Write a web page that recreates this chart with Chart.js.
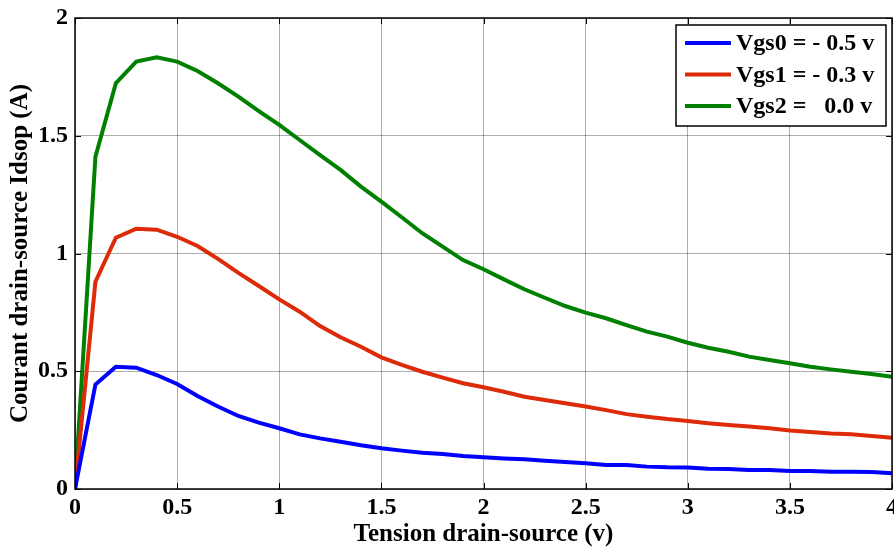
<!DOCTYPE html>
<html>
<head>
<meta charset="utf-8">
<script src="https://cdn.jsdelivr.net/npm/chart.js@4"></script>
<style>
  body { margin: 0; background: #fff; }
  #wrap { width: 894px; height: 550px; }
</style>
</head>
<body>
<div id="wrap"><canvas id="chart" width="894" height="550"></canvas></div>
<script>
// tension drain-source (v), step 0.1
const vds = [0, 0.1, 0.2, 0.3, 0.4, 0.5, 0.6, 0.7, 0.8, 0.9, 1.0,
  1.1, 1.2, 1.3, 1.4, 1.5, 1.6, 1.7, 1.8, 1.9, 2.0,
  2.1, 2.2, 2.3, 2.4, 2.5, 2.6, 2.7, 2.8, 2.9, 3.0,
  3.1, 3.2, 3.3, 3.4, 3.5, 3.6, 3.7, 3.8, 3.9, 4.0];

const vgs0 = [0, 0.444, 0.519, 0.515, 0.484, 0.446, 0.395, 0.350, 0.310, 0.282, 0.258,
  0.232, 0.215, 0.201, 0.186, 0.173, 0.163, 0.154, 0.149, 0.140, 0.135,
  0.130, 0.126, 0.120, 0.115, 0.109, 0.102, 0.102, 0.095, 0.092, 0.091,
  0.086, 0.085, 0.081, 0.081, 0.076, 0.076, 0.073, 0.073, 0.072, 0.067];

const vgs1 = [0, 0.880, 1.067, 1.105, 1.101, 1.071, 1.032, 0.977, 0.918, 0.862, 0.805,
  0.753, 0.692, 0.644, 0.604, 0.559, 0.527, 0.498, 0.473, 0.449, 0.432,
  0.413, 0.392, 0.378, 0.364, 0.350, 0.335, 0.318, 0.307, 0.297, 0.289,
  0.279, 0.272, 0.265, 0.258, 0.248, 0.242, 0.236, 0.232, 0.225, 0.218];

const vgs2 = [0, 1.411, 1.723, 1.815, 1.833, 1.815, 1.775, 1.723, 1.666, 1.605, 1.546,
  1.482, 1.418, 1.355, 1.284, 1.220, 1.154, 1.086, 1.029, 0.972, 0.933,
  0.890, 0.848, 0.812, 0.777, 0.749, 0.725, 0.696, 0.668, 0.647, 0.621,
  0.600, 0.583, 0.562, 0.548, 0.534, 0.519, 0.508, 0.498, 0.488, 0.477];

const seriesLabels = ['Vgs0 = - 0.5 v', 'Vgs1 = - 0.3 v', 'Vgs2 =   0.0 v'];
const seriesColors = ['#0000ff', '#dd2a08', '#008000'];

const FONT = "'Liberation Serif', 'Times New Roman', serif";

function points(ys) {
  return vds.map((x, i) => ({ x: x, y: ys[i] }));
}

// black box round the plot, inward ticks, legend inside the top right corner
const matlabBox = {
  id: 'matlabBox',
  afterDraw(chart) {
    const ctx = chart.ctx;
    const a = chart.chartArea;
    const xs = chart.scales.x;
    const ys = chart.scales.y;
    ctx.save();
    ctx.strokeStyle = '#000';
    ctx.lineWidth = 1.5;
    ctx.strokeRect(a.left, a.top, a.right - a.left, a.bottom - a.top);

    ctx.lineWidth = 1;
    xs.ticks.forEach(t => {
      const px = Math.round(xs.getPixelForValue(t.value)) + 0.5;
      ctx.beginPath();
      ctx.moveTo(px, a.bottom); ctx.lineTo(px, a.bottom - 6);
      ctx.moveTo(px, a.top); ctx.lineTo(px, a.top + 6);
      ctx.stroke();
    });
    ys.ticks.forEach(t => {
      const py = Math.round(ys.getPixelForValue(t.value)) + 0.5;
      ctx.beginPath();
      ctx.moveTo(a.left, py); ctx.lineTo(a.left + 6, py);
      ctx.moveTo(a.right, py); ctx.lineTo(a.right - 6, py);
      ctx.stroke();
    });

    // legend
    const bx = 676, by = 25, bw = 210, bh = 101;
    ctx.fillStyle = '#fff';
    ctx.fillRect(bx, by, bw, bh);
    ctx.strokeStyle = '#000';
    ctx.lineWidth = 1.5;
    ctx.strokeRect(bx, by, bw, bh);
    ctx.font = 'bold 24px ' + FONT;
    ctx.textBaseline = 'middle';
    chart.data.datasets.forEach((ds, i) => {
      const ry = by + 18 + i * 31.5;
      ctx.strokeStyle = ds.borderColor;
      ctx.lineWidth = 4;
      ctx.beginPath();
      ctx.moveTo(bx + 9, ry); ctx.lineTo(bx + 55, ry);
      ctx.stroke();
      ctx.fillStyle = '#000';
      ctx.fillText(ds.label, bx + 60, ry + 1);
    });
    ctx.restore();
  }
};

new Chart(document.getElementById('chart').getContext('2d'), {
  type: 'line',
  data: {
    datasets: [0, 1, 2].map(i => ({
      label: seriesLabels[i],
      data: points([vgs0, vgs1, vgs2][i]),
      borderColor: seriesColors[i],
      borderWidth: 4,
      pointRadius: 0,
      tension: 0,
      fill: false
    }))
  },
  options: {
    responsive: false,
    animation: false,
    layout: { padding: { top: 18, right: 2, left: 0, bottom: 0 } },
    plugins: {
      legend: { display: false },
      tooltip: { enabled: false }
    },
    scales: {
      x: {
        type: 'linear',
        min: 0,
        max: 4,
        afterFit: s => { s.height = 61; s.paddingRight = 0; s.paddingLeft = 0; },
        ticks: {
          stepSize: 0.5,
          color: '#000',
          padding: 4,
          font: { family: FONT, size: 24, weight: 'bold' },
          callback: v => String(v)
        },
        grid: { color: 'rgba(0,0,0,0.32)', lineWidth: 1, tickLength: 0 },
        border: { display: false },
        title: {
          display: true,
          text: 'Tension drain-source (v)',
          color: '#000',
          padding: { top: 0, bottom: 0 },
          font: { family: FONT, size: 25, weight: 'bold' }
        }
      },
      y: {
        min: 0,
        max: 2,
        afterFit: s => { s.width = 75; s.paddingTop = 0; s.paddingBottom = 0; },
        ticks: {
          stepSize: 0.5,
          color: '#000',
          padding: 7,
          font: { family: FONT, size: 24, weight: 'bold' },
          callback: v => String(v)
        },
        grid: { color: 'rgba(0,0,0,0.32)', lineWidth: 1, tickLength: 0 },
        border: { display: false },
        title: {
          display: true,
          text: 'Courant drain-source Idsop (A)',
          color: '#000',
          padding: { top: 6, bottom: 0 },
          font: { family: FONT, size: 25, weight: 'bold' }
        }
      }
    }
  },
  plugins: [matlabBox]
});
</script>
</body>
</html>
